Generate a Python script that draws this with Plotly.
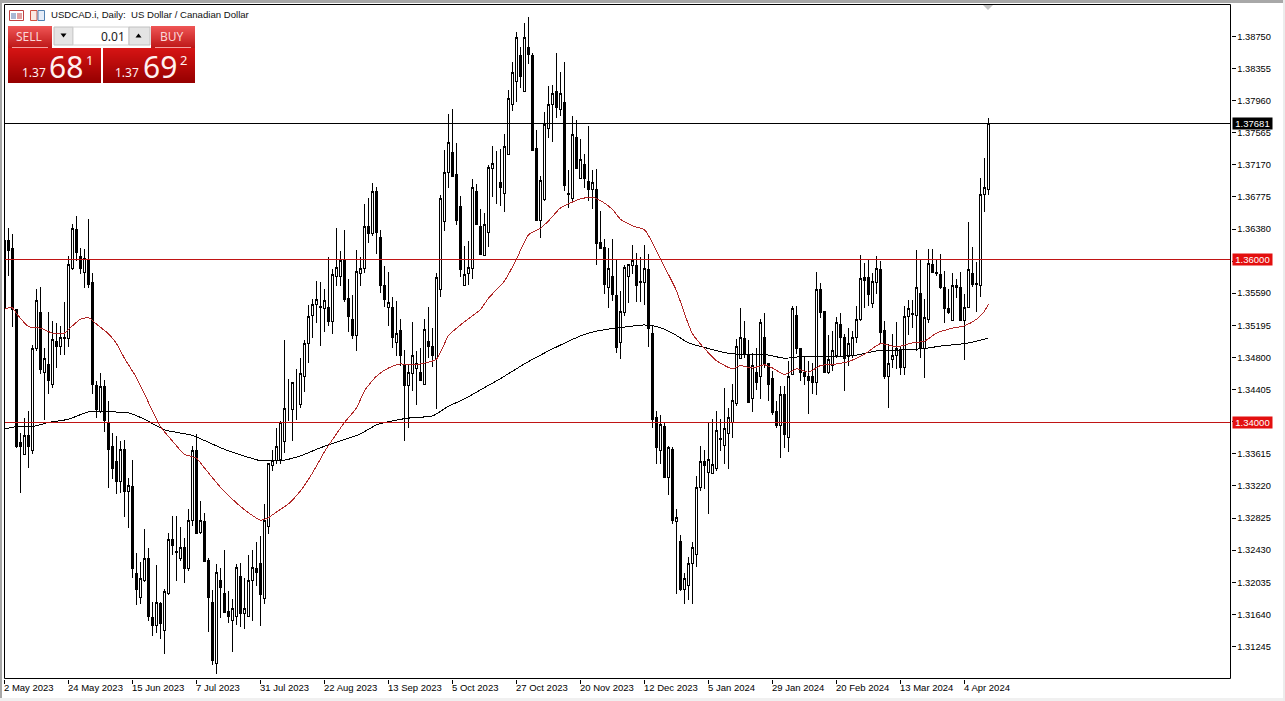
import plotly.graph_objects as go

opens = [1.3541,1.3624,1.3614,1.3539,1.3376,1.3361,1.3384,1.3365,1.3491,1.3535,1.3461,1.3471,1.3447,1.3500,1.3493,1.3504,1.3503,1.3590,1.3637,1.3604,
1.3585,1.3600,1.3572,1.3446,1.3414,1.3444,1.3400,1.3370,1.3352,1.3328,1.3367,1.3315,1.3321,1.3214,1.3185,1.3206,1.3233,1.3160,1.3150,1.3177,
1.3144,1.3190,1.3256,1.3241,1.3233,1.3246,1.3221,1.3280,1.3366,1.3265,1.3278,1.3230,1.3178,1.3104,1.3206,1.3190,1.3167,1.3157,1.3162,1.3211,
1.3165,1.3162,1.3206,1.3221,1.3226,1.3184,1.3272,1.3347,1.3353,1.3355,1.3377,1.3417,1.3416,1.3439,1.3422,1.3457,1.3497,1.3532,1.3545,1.3541,
1.3540,1.3542,1.3524,1.3580,1.3579,1.3599,1.3552,1.3527,1.3507,1.3583,1.3590,1.3641,1.3633,1.3684,1.3628,1.3568,1.3541,1.3541,1.3498,1.3513,
1.3471,1.3445,1.3460,1.3466,1.3461,1.3447,1.3500,1.3493,1.3479,1.3564,1.3647,1.3707,1.3732,1.3705,1.3666,1.3569,1.3583,1.3590,1.3684,1.3641,
1.3606,1.3634,1.3713,1.3712,1.3695,1.3682,1.3730,1.3791,1.3819,1.3852,1.3807,1.3861,1.3852,1.3737,1.3649,1.3674,1.3762,1.3791,1.3807,1.3785,
1.3794,1.3682,1.3676,1.3750,1.3700,1.3717,1.3697,1.3686,1.3686,1.3621,1.3615,1.3566,1.3580,1.3556,1.3498,1.3535,1.3579,1.3593,1.3593,1.3573,
1.3572,1.3588,1.3510,1.3406,1.3366,1.3395,1.3332,1.3367,1.3278,1.3254,1.3195,1.3199,1.3226,1.3238,1.3320,1.3352,1.3338,1.3337,1.3344,1.3380,
1.3372,1.3387,1.3400,1.3423,1.3479,1.3503,1.3484,1.3429,1.3461,1.3456,1.3504,1.3472,1.3454,1.3413,1.3396,1.3434,1.3381,1.3459,1.3532,1.3491,
1.3462,1.3457,1.3457,1.3449,1.3563,1.3536,1.3462,1.3470,1.3483,1.3521,1.3504,1.3481,1.3482,1.3504,1.3527,1.3578,1.3578,1.3546,1.3572,1.3588,
1.3513,1.3456,1.3477,1.3482,1.3489,1.3468,1.3530,1.3534,1.3532,1.3559,1.3491,1.3527,1.3594,1.3585,1.3582,1.3566,1.3540,1.3526,1.3569,1.3566,
1.3525,1.3541,1.3583,1.3571,1.3569,1.3680,1.3687]
highs = [1.3636,1.3639,1.3632,1.3540,1.3387,1.3406,1.3414,1.3495,1.3564,1.3567,1.3492,1.3536,1.3525,1.3523,1.3519,1.3548,1.3605,1.3644,1.3654,1.3615,
1.3614,1.3650,1.3584,1.3451,1.3461,1.3452,1.3427,1.3387,1.3384,1.3377,1.3379,1.3332,1.3354,1.3240,1.3229,1.3269,1.3246,1.3179,1.3225,1.3179,
1.3195,1.3264,1.3285,1.3285,1.3272,1.3258,1.3293,1.3371,1.3386,1.3304,1.3289,1.3233,1.3194,1.3226,1.3221,1.3243,1.3193,1.3183,1.3226,1.3227,
1.3209,1.3237,1.3243,1.3253,1.3261,1.3300,1.3350,1.3366,1.3393,1.3402,1.3502,1.3454,1.3450,1.3466,1.3479,1.3502,1.3545,1.3552,1.3574,1.3573,
1.3564,1.3604,1.3589,1.3639,1.3611,1.3637,1.3577,1.3557,1.3612,1.3604,1.3669,1.3676,1.3695,1.3690,1.3637,1.3593,1.3585,1.3554,1.3550,1.3527,
1.3489,1.3472,1.3524,1.3488,1.3492,1.3527,1.3542,1.3516,1.3584,1.3680,1.3735,1.3780,1.3786,1.3744,1.3679,1.3617,1.3623,1.3700,1.3693,1.3663,
1.3658,1.3717,1.3740,1.3734,1.3737,1.3755,1.3809,1.3843,1.3880,1.3862,1.3892,1.3899,1.3855,1.3760,1.3703,1.3782,1.3814,1.3815,1.3855,1.3831,
1.3844,1.3711,1.3777,1.3772,1.3749,1.3730,1.3765,1.3711,1.3712,1.3660,1.3626,1.3615,1.3626,1.3601,1.3562,1.3594,1.3595,1.3618,1.3609,1.3604,
1.3618,1.3607,1.3519,1.3414,1.3409,1.3400,1.3371,1.3370,1.3293,1.3262,1.3215,1.3235,1.3253,1.3334,1.3371,1.3366,1.3400,1.3404,1.3414,1.3404,
1.3443,1.3418,1.3447,1.3503,1.3541,1.3525,1.3502,1.3486,1.3492,1.3527,1.3535,1.3473,1.3463,1.3427,1.3445,1.3445,1.3476,1.3543,1.3543,1.3492,
1.3482,1.3476,1.3473,1.3585,1.3572,1.3537,1.3508,1.3513,1.3530,1.3535,1.3509,1.3516,1.3513,1.3543,1.3606,1.3596,1.3601,1.3584,1.3605,1.3599,
1.3525,1.3497,1.3509,1.3524,1.3494,1.3543,1.3551,1.3551,1.3612,1.3601,1.3552,1.3614,1.3614,1.3601,1.3607,1.3586,1.3564,1.3584,1.3577,1.3585,
1.3558,1.3647,1.3616,1.3598,1.3701,1.3725,1.3775]
lows = [1.3541,1.3580,1.3518,1.3369,1.3313,1.3360,1.3344,1.3361,1.3488,1.3460,1.3403,1.3435,1.3443,1.3467,1.3483,1.3483,1.3493,1.3588,1.3599,1.3583,
1.3566,1.3566,1.3435,1.3406,1.3412,1.3388,1.3320,1.3331,1.3312,1.3313,1.3284,1.3270,1.3209,1.3176,1.3177,1.3204,1.3156,1.3138,1.3141,1.3134,
1.3115,1.3188,1.3237,1.3205,1.3230,1.3202,1.3217,1.3273,1.3264,1.3263,1.3229,1.3142,1.3102,1.3091,1.3160,1.3166,1.3154,1.3118,1.3151,1.3149,
1.3146,1.3161,1.3156,1.3199,1.3150,1.3177,1.3263,1.3340,1.3349,1.3349,1.3363,1.3402,1.3377,1.3403,1.3418,1.3438,1.3473,1.3504,1.3523,1.3494,
1.3511,1.3519,1.3509,1.3568,1.3568,1.3548,1.3511,1.3503,1.3488,1.3568,1.3584,1.3621,1.3630,1.3607,1.3559,1.3542,1.3519,1.3492,1.3482,1.3470,
1.3377,1.3393,1.3439,1.3422,1.3451,1.3446,1.3479,1.3468,1.3417,1.3554,1.3636,1.3689,1.3702,1.3643,1.3579,1.3568,1.3569,1.3577,1.3644,1.3606,
1.3605,1.3616,1.3677,1.3669,1.3666,1.3659,1.3730,1.3783,1.3794,1.3812,1.3807,1.3841,1.3734,1.3648,1.3627,1.3673,1.3750,1.3745,1.3775,1.3777,
1.3685,1.3664,1.3673,1.3712,1.3700,1.3689,1.3673,1.3663,1.3594,1.3614,1.3558,1.3541,1.3550,1.3486,1.3478,1.3531,1.3547,1.3583,1.3548,1.3548,
1.3545,1.3493,1.3393,1.3349,1.3349,1.3332,1.3311,1.3275,1.3189,1.3193,1.3177,1.3182,1.3177,1.3222,1.3316,1.3318,1.3288,1.3337,1.3340,1.3365,
1.3349,1.3343,1.3381,1.3420,1.3478,1.3479,1.3425,1.3413,1.3440,1.3429,1.3467,1.3427,1.3409,1.3393,1.3356,1.3369,1.3364,1.3459,1.3484,1.3451,
1.3446,1.3411,1.3435,1.3434,1.3529,1.3461,1.3460,1.3463,1.3479,1.3482,1.3439,1.3470,1.3479,1.3498,1.3525,1.3541,1.3543,1.3541,1.3558,1.3497,
1.3454,1.3418,1.3467,1.3466,1.3459,1.3459,1.3508,1.3516,1.3488,1.3479,1.3455,1.3523,1.3584,1.3580,1.3564,1.3523,1.3534,1.3525,1.3553,1.3525,
1.3477,1.3541,1.3567,1.3536,1.3554,1.3659,1.3680]
closes = [1.3624,1.3612,1.3539,1.3371,1.3371,1.3384,1.3370,1.3491,1.3550,1.3465,1.3479,1.3452,1.3502,1.3493,1.3504,1.3503,1.3594,1.3639,1.3609,1.3589,
1.3602,1.3570,1.3447,1.3416,1.3444,1.3402,1.3367,1.3344,1.3328,1.3367,1.3315,1.3323,1.3220,1.3194,1.3208,1.3233,1.3162,1.3150,1.3179,1.3153,
1.3192,1.3256,1.3249,1.3240,1.3246,1.3221,1.3280,1.3366,1.3264,1.3280,1.3229,1.3185,1.3107,1.3215,1.3197,1.3166,1.3162,1.3171,1.3222,1.3165,
1.3171,1.3206,1.3222,1.3216,1.3188,1.3280,1.3349,1.3353,1.3371,1.3400,1.3417,1.3417,1.3449,1.3439,1.3460,1.3497,1.3531,1.3545,1.3551,1.3543,
1.3550,1.3524,1.3582,1.3591,1.3599,1.3551,1.3530,1.3507,1.3586,1.3590,1.3641,1.3633,1.3684,1.3634,1.3569,1.3551,1.3548,1.3505,1.3510,1.3483,
1.3445,1.3461,1.3482,1.3473,1.3452,1.3515,1.3494,1.3483,1.3578,1.3675,1.3708,1.3744,1.3702,1.3649,1.3588,1.3582,1.3591,1.3689,1.3644,1.3607,
1.3644,1.3714,1.3719,1.3712,1.3689,1.3740,1.3798,1.3831,1.3873,1.3825,1.3873,1.3853,1.3735,1.3649,1.3698,1.3766,1.3791,1.3805,1.3787,1.3805,
1.3691,1.3681,1.3754,1.3713,1.3724,1.3700,1.3686,1.3695,1.3620,1.3614,1.3570,1.3589,1.3558,1.3492,1.3536,1.3591,1.3594,1.3599,1.3569,1.3572,
1.3590,1.3516,1.3404,1.3369,1.3398,1.3332,1.3369,1.3280,1.3283,1.3194,1.3208,1.3227,1.3246,1.3320,1.3352,1.3347,1.3355,1.3348,1.3390,1.3379,
1.3393,1.3406,1.3427,1.3494,1.3505,1.3484,1.3425,1.3470,1.3449,1.3523,1.3473,1.3447,1.3412,1.3396,1.3434,1.3385,1.3456,1.3540,1.3491,1.3461,
1.3456,1.3452,1.3449,1.3563,1.3535,1.3462,1.3477,1.3488,1.3523,1.3504,1.3479,1.3497,1.3504,1.3527,1.3577,1.3575,1.3558,1.3573,1.3590,1.3511,
1.3456,1.3473,1.3482,1.3491,1.3468,1.3531,1.3540,1.3533,1.3566,1.3491,1.3529,1.3595,1.3584,1.3583,1.3566,1.3540,1.3535,1.3569,1.3566,1.3526,
1.3541,1.3588,1.3570,1.3570,1.3681,1.3689,1.37681]

red_ma_idx = [0,2,3,6,9,12,15,17,19,21,23,26,28,30,33,35,37,39,42,45,48,50,52,53,55,58,61,64,66,68,71,74,77,80,82,85,88,90,93,96,99,101,104,108,110,111,115,119,121,125,128,131,134,136,139,141,144,147,149,152,154,157,160,161,164,168,170,172,175,178,182,184,187,190,192,195,198,201,204,208,211,215,219,223,227,230,233,237,240,243,245,246]
red_ma = [1.3540,1.3541,1.3534,1.3518,1.3516,1.3510,1.3510,1.3519,1.3527,1.3529,1.3521,1.3509,1.3497,1.3479,1.3455,1.3435,1.3414,1.3395,1.3377,1.3361,1.3356,1.3344,1.3332,1.3326,1.3315,1.3301,1.3289,1.3280,1.3283,1.3290,1.3300,1.3316,1.3338,1.3364,1.3379,1.3400,1.3418,1.3439,1.3457,1.3467,1.3472,1.3471,1.3472,1.3478,1.3497,1.3507,1.3524,1.3539,1.3553,1.3574,1.3601,1.3631,1.3639,1.3648,1.3664,1.3669,1.3675,1.3677,1.3673,1.3662,1.3650,1.3642,1.3637,1.3630,1.3601,1.3562,1.3534,1.3509,1.3491,1.3476,1.3466,1.3470,1.3467,1.3471,1.3467,1.3459,1.3466,1.3462,1.3470,1.3472,1.3475,1.3484,1.3497,1.3493,1.3498,1.3500,1.3510,1.3516,1.3519,1.3527,1.3537,1.3546]
black_ma_idx = [0,3,7,11,16,21,27,31,35,40,47,55,64,66,69,74,79,85,89,93,98,102,107,111,115,120,124,131,141,146,151,156,160,163,167,171,176,180,183,189,191,195,199,207,213,218,223,230,234,240,243,246]
black_ma = [1.3392,1.3395,1.3395,1.3400,1.3404,1.3413,1.3413,1.3412,1.3404,1.3391,1.3384,1.3367,1.3353,1.3353,1.3353,1.3359,1.3369,1.3379,1.3386,1.3397,1.3403,1.3406,1.3408,1.3420,1.3429,1.3443,1.3454,1.3475,1.3500,1.3510,1.3515,1.3518,1.3520,1.3518,1.3510,1.3498,1.3491,1.3486,1.3484,1.3484,1.3483,1.3479,1.3481,1.3481,1.3483,1.3488,1.3489,1.3491,1.3494,1.3497,1.3500,1.3504]

price_ticks = [1.38750,1.38355,1.37960,1.37565,1.37170,1.36775,1.36380,1.35985,1.35590,1.35195,1.34800,1.34405,1.34010,1.33615,1.33220,1.32825,1.32430,1.32035,1.31640,1.31245]
hidden_ticks = [1.35985,1.34010]
date_idx = [0,16,32,48,64,80,96,112,128,144,160,176,192,208,224,240]
date_labels = ["2 May 2023","24 May 2023","15 Jun 2023","7 Jul 2023","31 Jul 2023","22 Aug 2023","13 Sep 2023","5 Oct 2023","27 Oct 2023","20 Nov 2023","12 Dec 2023","5 Jan 2024","29 Jan 2024","20 Feb 2024","13 Mar 2024","4 Apr 2024"]
current_price = 1.37681
levels = [1.36000,1.34000]

W, H = 1285, 701
FONT = "Liberation Sans"
px = lambda v: v / W
py = lambda v: 1 - v / H
X0, X1, Y0, Y1 = 4.5, 1230.5, 4.5, 678.5
to_i = lambda v: (v - 4.5) / 4.0
to_p = lambda v: 1.36 + (259.9 - v) * 0.000123

shapes, ann = [], []

def rect(x0, y0, x1, y1, fill, line=None, w=1, layer="above"):
    shapes.append(dict(type="rect", xref="paper", yref="paper", x0=px(x0), x1=px(x1), y0=py(y0), y1=py(y1),
                       fillcolor=fill, line=dict(color=line or fill, width=w if line else 0), layer=layer))

def text(x, y, s, size, color="#000000", anchor="left", font=FONT):
    ann.append(dict(xref="paper", yref="paper", x=px(x), y=py(y), text=s, showarrow=False, xanchor=anchor, yanchor="middle",
                    font=dict(family=font, size=size, color=color), borderpad=0, borderwidth=0))

def gradient(x0, y0, x1, y1, top, bot):
    n = y1 - y0
    for k in range(n):
        t = k / max(n - 1, 1)
        c = tuple(round(a + (b - a) * t) for a, b in zip(top, bot))
        rect(x0, y0 + k, x1, y0 + k + 1, "rgb(%d,%d,%d)" % c)

# window chrome
rect(0, 0, W, 3, "#a8a8a8", layer="below")
rect(0, 0, 2, H, "#a8a8a8", layer="below")
rect(0, 698, W, H, "#f0f0f0", layer="below")
rect(1283, 0, W, H, "#ececec", layer="below")
# plot frame
rect(X0, Y0, X1, Y1, "rgba(0,0,0,0)", line="#000000")
# scroll marker
shapes.append(dict(type="path", xref="paper", yref="paper", layer="above", fillcolor="#c4c4c4", line=dict(width=0),
    path="M %f %f L %f %f L %f %f Z" % (px(983), py(5), px(993), py(5), px(988), py(10))))

# price badges
def badge(price, fill, color):
    ann.append(dict(xref="paper", yref="y", x=px(1252.5), y=price, text="%.5f" % price, showarrow=False,
                    xanchor="center", yanchor="middle", width=39, height=11, bgcolor=fill,
                    font=dict(family=FONT, size=9.5, color=color), borderpad=0))
for lv in levels:
    badge(lv, "#e30f0f", "#ffffff")
badge(current_price, "#000000", "#ffffff")

# date labels
for i, lab in zip(date_idx, date_labels):
    ann.append(dict(xref="paper", yref="paper", x=px(2.6 + 4 * i), y=py(687), text=lab, showarrow=False, xanchor="left", yanchor="middle",
                    font=dict(family=FONT, size=9.5, color="#000000"), borderpad=0))

# header
text(51, 15, "USDCAD.i, Daily:  US Dollar / Canadian Dollar", 9.6, "#101010")
# icons
rect(9.5, 10.5, 23.5, 20.5, "#ffffff", line="#c04040")
for yy in (13.5, 15.5, 17.5):
    rect(11, yy, 16, yy + 1, "#5070a8")
    rect(17, yy, 22, yy + 1, "#c04040")
rect(30.5, 10.5, 37, 20.5, "#fbe8e0", line="#d05040")
rect(38, 10.5, 44.5, 20.5, "#e4ecf8", line="#5080b0")

# trade panel
rect(7, 25, 196, 84, "#ffffff")
gradient(8, 26, 52, 48, (238, 84, 84), (190, 24, 24))
gradient(151, 26, 195, 48, (238, 84, 84), (190, 24, 24))
gradient(8, 48, 101, 83, (214, 20, 20), (150, 0, 0))
gradient(103, 48, 195, 83, (214, 20, 20), (150, 0, 0))
rect(12, 47, 48, 48, "#f4a0a0")
rect(155, 47, 191, 48, "#f4a0a0")
rect(54, 27, 73, 45, "#e4e4e4", line="#c0c0c0")
rect(73, 27, 129, 45, "#ffffff", line="#d0d0d0")
rect(129, 27, 150, 45, "#e4e4e4", line="#c0c0c0")
for cx, up in ((63.5, False), (138.5, True)):
    a, b = (33.5, 37.5) if up else (37.5, 33.5)
    shapes.append(dict(type="path", xref="paper", yref="paper", layer="above", fillcolor="#000000", line=dict(width=0),
        path="M %f %f L %f %f L %f %f Z" % (px(cx - 3), py(b), px(cx + 3), py(b), px(cx), py(a))))
text(125, 36, "0.01", 12, "#202020", "right", "Noto Sans")
text(29, 37, "SELL", 12, "#fbd8d8", "center", "Noto Sans")
text(172, 37, "BUY", 12, "#fbd8d8", "center", "Noto Sans")
text(22, 73, "1.37", 12, "#fff0f0", "left", "Noto Sans")
text(49, 66, "68", 30, "#fff0f0", "left", "Noto Sans")
text(86, 60, "1", 13, "#fff0f0", "left", "Noto Sans")
text(115, 73, "1.37", 12, "#fff0f0", "left", "Noto Sans")
text(143, 66, "69", 30, "#fff0f0", "left", "Noto Sans")
text(180, 60, "2", 13, "#fff0f0", "left", "Noto Sans")

x = list(range(len(opens)))
line_x = [to_i(X0), to_i(X1)]
fig = go.Figure()
fig.add_trace(go.Candlestick(x=x, open=opens, high=highs, low=lows, close=closes, whiskerwidth=0,
    increasing=dict(line=dict(color="#000000", width=1), fillcolor="#ffffff"),
    decreasing=dict(line=dict(color="#000000", width=1), fillcolor="#000000"), hoverinfo="skip", showlegend=False))
fig.add_trace(go.Scatter(x=black_ma_idx, y=black_ma, mode="lines", line=dict(color="#000000", width=1, shape="spline", smoothing=0.6), hoverinfo="skip", showlegend=False))
fig.add_trace(go.Scatter(x=red_ma_idx, y=red_ma, mode="lines", line=dict(color="#b02828", width=1, shape="spline", smoothing=0.6), hoverinfo="skip", showlegend=False))
for lv in levels:
    fig.add_trace(go.Scatter(x=line_x, y=[lv, lv], mode="lines", line=dict(color="#c01414", width=1), hoverinfo="skip", showlegend=False))
fig.add_trace(go.Scatter(x=line_x, y=[current_price, current_price], mode="lines", line=dict(color="#000000", width=1), hoverinfo="skip", showlegend=False))

fig.update_layout(
    width=W, height=H, margin=dict(l=0, r=0, t=0, b=0), paper_bgcolor="#ffffff", plot_bgcolor="#ffffff",
    showlegend=False, shapes=shapes, annotations=ann, boxgap=0.5, hovermode=False,
    xaxis=dict(domain=[px(X0), px(X1)], range=[to_i(X0), to_i(X1)], rangeslider=dict(visible=False), showgrid=False, zeroline=False,
               tickmode="array", tickvals=date_idx, ticktext=[""] * len(date_idx), ticks="outside", ticklen=4, tickcolor="#000000", tickwidth=1, showline=False),
    yaxis=dict(domain=[py(Y1), py(Y0)], range=[to_p(Y1), to_p(Y0)], side="right", showgrid=False, zeroline=False, showline=False,
               tickmode="array", tickvals=price_ticks,
               ticktext=["" if v in hidden_ticks else "%.5f" % v for v in price_ticks],
               ticks="outside", ticklen=4, tickcolor="#000000", tickwidth=1,
               tickfont=dict(family=FONT, size=9.3, color="#000000")),
)
fig.write_html("out.html", config=dict(displayModeBar=False, staticPlot=True),
               post_script="document.body.style.margin='0';document.documentElement.style.overflow='hidden';"
                           "document.querySelectorAll('.boxlayer path,.scatterlayer path').forEach(function(p){p.style.shapeRendering='crispEdges';});")
